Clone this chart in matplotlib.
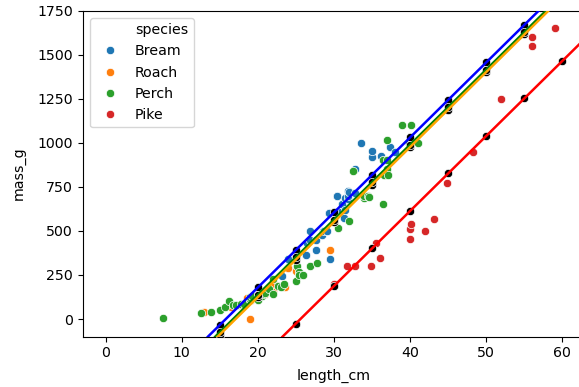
"""
Fish mass vs length with a parallel-slopes model per species
(mass_g ~ length_cm + species + 0), predictions drawn as black points.
"""
import numpy as np
import matplotlib.pyplot as plt
from matplotlib.lines import Line2D

species_order = ["Bream", "Roach", "Perch", "Pike"]

bream_length = [23.2, 24, 23.9, 26.3, 26.5, 26.8, 26.8, 27.6, 27.6, 28.5, 28.4, 28.7,
                29.1, 29.5, 29.4, 29.4, 30.4, 30.4, 30.9, 31, 31.3, 31.4, 31.5, 31.8,
                31.9, 31.8, 32, 32.7, 32.8, 33.5, 35, 35, 36.2, 37.4, 38]
bream_mass = [242, 290, 340, 363, 430, 450, 500, 390, 450, 500, 475, 500,
              500, 340, 600, 600, 700, 700, 610, 650, 575, 685, 620, 680,
              700, 725, 720, 714, 850, 1000, 920, 955, 925, 975, 950]

roach_length = [12.9, 16.5, 17.5, 18.2, 18.6, 19, 19.1, 19.4, 20.4, 20.5,
                20.5, 21, 21.1, 22, 22, 22.1, 23.6, 24, 25, 29.5]
roach_mass = [40, 69, 78, 87, 120, 0, 110, 120, 150, 145,
              160, 140, 160, 169, 161, 200, 180, 290, 272, 390]

perch_length = [7.5, 12.5, 13.8, 15, 15.7, 16.2, 16.8, 17.2, 17.8, 18.2, 19, 19,
                19, 19.3, 20, 20, 20, 20, 20, 20.5, 20.5, 20.7, 21, 21.5,
                22, 22, 22.6, 23, 23.5, 25, 25.2, 25.4, 25.4, 25.4, 25.9, 26.9,
                27.8, 30.5, 32, 32.5, 34, 34, 34.5, 34.6, 36.5, 36.5, 36.6, 36.9,
                37, 37, 37.1, 39, 39.8, 40.1, 40.2, 41.1]
perch_mass = [5.9, 32, 40, 51.5, 70, 100, 78, 80, 85, 85, 110, 115,
              125, 130, 120, 120, 130, 135, 110, 130, 150, 145, 150, 170,
              225, 145, 188, 180, 197, 218, 300, 260, 265, 250, 250, 300,
              320, 514, 556, 840, 685, 700, 700, 690, 900, 650, 820, 850,
              900, 1015, 820, 1100, 1000, 1100, 1000, 1000]

pike_length = [30, 31.7, 32.7, 34.8, 35.5, 36, 40, 40, 40.1, 42, 43.2, 44.8,
               48.3, 52, 56, 56, 59]
pike_mass = [200, 300, 300, 300, 430, 345, 456, 510, 540, 500, 567, 770,
             950, 1250, 1600, 1550, 1650]

# model coefficients: common slope, one intercept per species
slope = 42.5686
intercepts = {"Bream": -672.24, "Perch": -713.29, "Pike": -1089.46, "Roach": -726.78}
line_colors = {"Bream": "blue", "Perch": "green", "Pike": "red", "Roach": "orange"}

prediction_lengths = [5, 10, 15, 20, 25, 30, 35, 40, 45, 50, 55, 60]

point_colors = {"Bream": "#1f77b4", "Roach": "#ff7f0e", "Perch": "#2ca02c", "Pike": "#d62728"}


def main():
    plt.rcParams["font.family"] = "DejaVu Sans"
    plt.rcParams["font.size"] = 10.2

    fig = plt.figure(figsize=(5.79, 3.87), dpi=100)
    ax = fig.add_axes([0.1428, 0.13, 0.868, 0.8426])

    data = {
        "Bream": (bream_length, bream_mass),
        "Roach": (roach_length, roach_mass),
        "Perch": (perch_length, perch_mass),
        "Pike": (pike_length, pike_mass),
    }
    for sp in species_order:
        x, y = data[sp]
        ax.scatter(x, y, s=36, color=point_colors[sp], edgecolors="white", linewidths=0.5, zorder=3)

    # predictions from the model
    for sp in species_order:
        px = np.array(prediction_lengths, dtype=float)
        py = intercepts[sp] + slope * px
        ax.scatter(px, py, s=36, color="black", edgecolors="white", linewidths=0.5, zorder=4)

    # model lines go on top of the points
    for sp in ["Bream", "Perch", "Pike", "Roach"]:
        ax.axline((0, intercepts[sp]), slope=slope, color=line_colors[sp], lw=1.8, zorder=5)

    ax.set_xlim(-3, 63)
    ax.set_ylim(-100, 1750)
    ax.set_xticks([0, 10, 20, 30, 40, 50, 60])
    ax.set_yticks([0, 250, 500, 750, 1000, 1250, 1500, 1750])
    ax.set_xlabel("length_cm", labelpad=6)
    ax.set_ylabel("mass_g", labelpad=8)

    handles = [Line2D([], [], linestyle="", marker="")]
    labels = ["species"]
    for sp in species_order:
        handles.append(Line2D([], [], linestyle="", marker="o", markersize=6,
                              markerfacecolor=point_colors[sp], markeredgecolor="white",
                              markeredgewidth=0.5))
        labels.append(sp)
    ax.legend(handles, labels, loc="upper left")

    fig.savefig("out.png", dpi=100)


if __name__ == "__main__":
    main()
